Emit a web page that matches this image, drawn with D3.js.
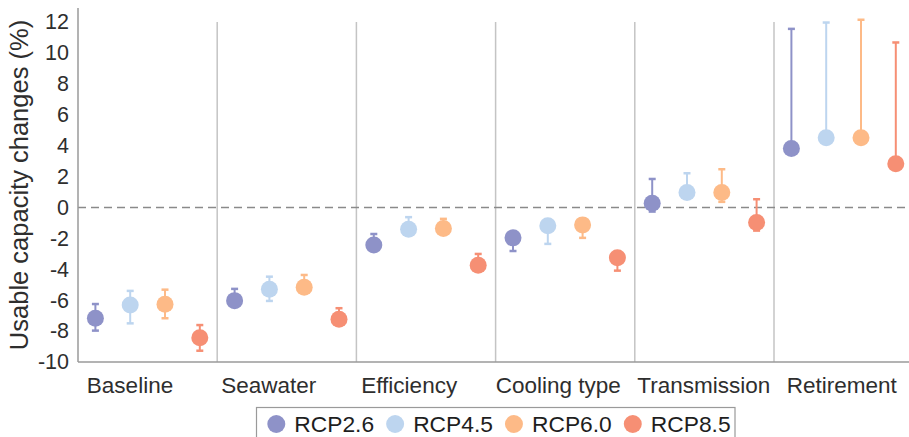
<!DOCTYPE html>
<html>
<head>
<meta charset="utf-8">
<script src="https://cdn.jsdelivr.net/npm/d3@7"></script>
<style>
  html, body { margin: 0; padding: 0; background: #fff; }
  svg { display: block; font-family: "Liberation Sans", Arial, sans-serif; }
</style>
</head>
<body>
<svg id="chart" width="909" height="437"></svg>
<script>
// ---- data ----
const categories = ["Baseline", "Seawater", "Efficiency", "Cooling type", "Transmission", "Retirement"];
const series = ["RCP2.6", "RCP4.5", "RCP6.0", "RCP8.5"];
const colors = ["#8e92c8", "#bdd5ef", "#fdba87", "#f68f74"];
const yTicks = [-10, -8, -6, -4, -2, 0, 2, 4, 6, 8, 10, 12];

// mean values per series, one entry per category
const rcp26Mean = [-7.17, -6.03, -2.43, -1.97, 0.27, 3.81];
const rcp45Mean = [-6.31, -5.30, -1.41, -1.18, 0.96, 4.50];
const rcp60Mean = [-6.27, -5.17, -1.37, -1.13, 0.96, 4.50];
const rcp85Mean = [-8.43, -7.24, -3.74, -3.25, -0.98, 2.82];

const rcp26Low = [-7.97, -6.40, -2.70, -2.82, -0.27, 3.60];
const rcp45Low = [-7.50, -6.05, -1.80, -2.36, 0.70, 4.30];
const rcp60Low = [-7.17, -5.50, -1.60, -1.97, 0.36, 4.30];
const rcp85Low = [-9.27, -7.60, -4.00, -4.09, -1.50, 2.60];

const rcp26High = [-6.25, -5.27, -1.72, -1.70, 1.84, 11.55];
const rcp45High = [-5.40, -4.48, -0.63, -1.00, 2.21, 11.96];
const rcp60High = [-5.32, -4.37, -0.74, -0.90, 2.47, 12.14];
const rcp85High = [-7.61, -6.52, -3.01, -3.00, 0.53, 10.67];

const means = [rcp26Mean, rcp45Mean, rcp60Mean, rcp85Mean];
const lows = [rcp26Low, rcp45Low, rcp60Low, rcp85Low];
const highs = [rcp26High, rcp45High, rcp60High, rcp85High];

// ---- layout ----
const W = 909, H = 437;
const plotLeft = 78, plotTop = 8, plotBottom = 362;
const bandW = 139.2;
const labelDx = [-17.6, -18.1, -16.8, -6.9, -0.7, -1.8];
const textColor = "#2e2e2e";
const font = "\"Liberation Sans\", Arial, sans-serif";

const svg = d3.select("#chart");

const x = d3.scaleBand().domain(categories).range([plotLeft, plotLeft + bandW * categories.length]).padding(0);
const xs = d3.scaleBand().domain(series).range([0, x.bandwidth()]).padding(0);
const y = d3.scaleLinear().domain([-10, 12.9]).range([plotBottom, plotTop]);

// separators
svg.append("g").selectAll("line")
  .data(categories.slice(1))
  .join("line")
  .attr("x1", d => x(d)).attr("x2", d => x(d))
  .attr("y1", y(12)).attr("y2", plotBottom)
  .attr("stroke", "#c4c4c4").attr("stroke-width", 1.5);

// zero dashed line
svg.append("line")
  .attr("x1", plotLeft).attr("x2", W)
  .attr("y1", y(0)).attr("y2", y(0))
  .attr("stroke", "#8a8a8a").attr("stroke-width", 1.5)
  .attr("stroke-dasharray", "8,5");

// axes lines
svg.append("line")
  .attr("x1", plotLeft).attr("x2", plotLeft)
  .attr("y1", plotTop).attr("y2", plotBottom)
  .attr("stroke", "#9a9a9a").attr("stroke-width", 1.5);
svg.append("line")
  .attr("x1", plotLeft).attr("x2", W)
  .attr("y1", plotBottom).attr("y2", plotBottom)
  .attr("stroke", "#9a9a9a").attr("stroke-width", 1.5);

// y tick labels via axis
const yAxis = d3.axisLeft(y).tickValues(yTicks).tickSize(0).tickPadding(9).tickFormat(d3.format("d"));
const gy = svg.append("g").attr("transform", `translate(${plotLeft},0)`).call(yAxis);
gy.select(".domain").remove();
gy.selectAll("text")
  .attr("font-family", font).attr("font-size", 21.5).attr("fill", textColor)
  .text(d => (d < 0 ? "-" + Math.abs(d) : d));

// y title
svg.append("text")
  .attr("transform", `translate(28,${(plotTop + plotBottom) / 2}) rotate(-90)`)
  .attr("text-anchor", "middle")
  .attr("font-family", font).attr("font-size", 25.5).attr("fill", textColor)
  .text("Usable capacity changes (%)");

// x labels via axis
const xAxis = d3.axisBottom(x).tickSize(0).tickPadding(0);
const gx = svg.append("g").attr("transform", `translate(0,${plotBottom})`).call(xAxis);
gx.select(".domain").remove();
gx.selectAll("text")
  .attr("font-family", font).attr("font-size", 22.5).attr("fill", textColor)
  .attr("dy", null).attr("y", 31)
  .attr("x", (d, i) => labelDx[i]);

// points & error bars
const pts = [];
series.forEach((s, si) => {
  categories.forEach((c, ci) => {
    pts.push({ s, si, c, m: means[si][ci], lo: lows[si][ci], hi: highs[si][ci] });
  });
});
const cx = d => x(d.c) + xs(d.s) + xs.bandwidth() / 2;
const g = svg.append("g");
const capHalf = 3.5;
g.selectAll("line.err").data(pts).join("line").attr("class", "err")
  .attr("x1", cx).attr("x2", cx)
  .attr("y1", d => y(d.lo)).attr("y2", d => y(d.hi))
  .attr("stroke", d => colors[d.si]).attr("stroke-width", 2);
g.selectAll("line.capHi").data(pts).join("line").attr("class", "capHi")
  .attr("x1", d => cx(d) - capHalf).attr("x2", d => cx(d) + capHalf)
  .attr("y1", d => y(d.hi)).attr("y2", d => y(d.hi))
  .attr("stroke", d => colors[d.si]).attr("stroke-width", 2.5);
g.selectAll("line.capLo").data(pts).join("line").attr("class", "capLo")
  .attr("x1", d => cx(d) - capHalf).attr("x2", d => cx(d) + capHalf)
  .attr("y1", d => y(d.lo)).attr("y2", d => y(d.lo))
  .attr("stroke", d => colors[d.si]).attr("stroke-width", 2.5);
g.selectAll("circle").data(pts).join("circle")
  .attr("cx", cx).attr("cy", d => y(d.m)).attr("r", 8.5)
  .attr("fill", d => colors[d.si]);

// legend
const lg = svg.append("g");
lg.append("rect")
  .attr("x", 256.5).attr("y", 407.5).attr("width", 478.5).attr("height", 40)
  .attr("fill", "#fff").attr("stroke", "#9a9a9a").attr("stroke-width", 1.2);
let lx = 276.3;
series.forEach((s, i) => {
  lg.append("circle").attr("cx", lx).attr("cy", 424).attr("r", 9).attr("fill", colors[i]);
  const t = lg.append("text").attr("x", lx + 18).attr("y", 432.3)
    .attr("font-family", font).attr("font-size", 22.8).attr("fill", "#1e1e1e").text(s);
  const w = t.node().getComputedTextLength();
  lx = lx + 18 + w + 21;
});
</script>
</body>
</html>
